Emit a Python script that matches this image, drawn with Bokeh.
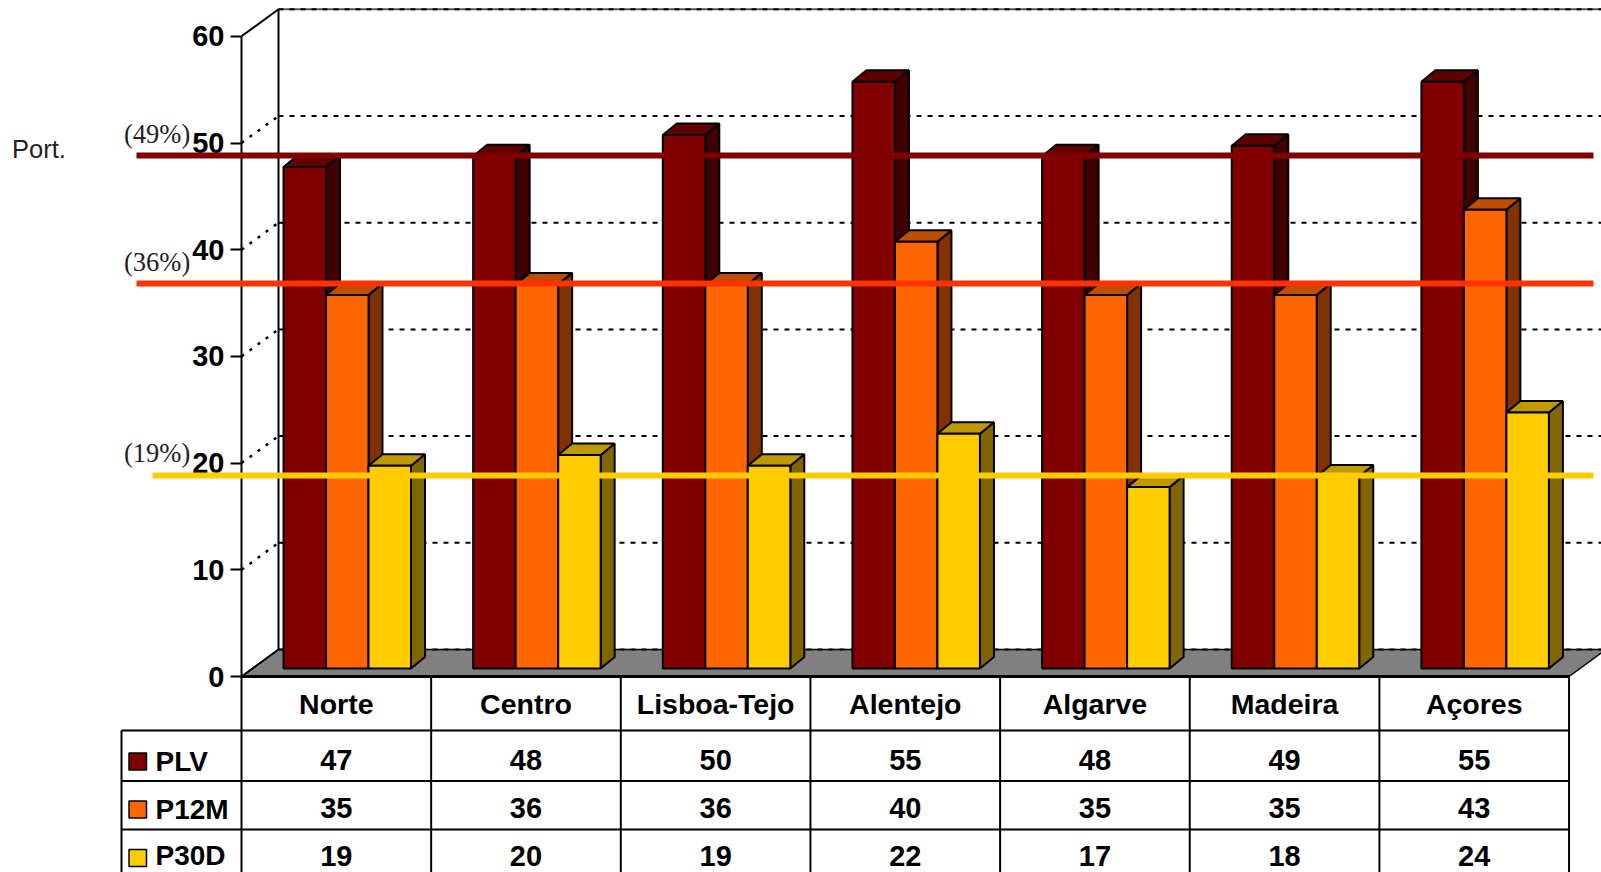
from bokeh.embed import file_html
from bokeh.resources import INLINE
from bokeh.plotting import figure
from bokeh.models import FixedTicker
from bokeh.core.properties import value

regions = ["Norte", "Centro", "Lisboa-Tejo", "Alentejo", "Algarve", "Madeira", "Açores"]
plv = [47, 48, 50, 55, 48, 49, 55]
p12m = [35, 36, 36, 40, 35, 35, 43]
p30d = [19, 20, 19, 22, 17, 18, 24]
series_names = ["PLV", "P12M", "P30D"]
ref_values = [49, 36, 19]
ref_labels = ["(49%)", "(36%)", "(19%)"]
y_ticks = [0, 10, 20, 30, 40, 50, 60]

front = ["#800000", "#FF6600", "#FFCC00"]
top_c = ["#600000", "#BF4D00", "#BF9900"]
side_c = ["#400000", "#803300", "#806600"]
ref_c = ["#800000", "#FF3300", "#FFCC00"]

# page-pixel layout
PX_U, PX_V = 189.65, 10.67
X0, Y0 = 241, 676
X = lambda px: (px - X0) / PX_U
DY = lambda d: d / PX_V
Y = lambda py: (Y0 - py) / PX_V

W_DX, W_DY = X(278), DY(27)
B_DX, B_DY = 14 / PX_U, DY(11.5)
BAR_L, BAR_W = X(283), 42.5 / PX_U
BAR_0 = Y(668)
XEND = X(1601)

FONT = value("Liberation Sans")
SERIF = value("Liberation Serif")

p = figure(width=1601, height=872, output_backend="svg", toolbar_location=None,
           x_range=(X(0), X(1601)), y_range=(Y(872), Y(0)), min_border=0,
           x_axis_location="below", y_axis_location="left")
p.outline_line_color = None
p.grid.visible = False
p.background_fill_color = "white"

yax = p.yaxis[0]
yax.fixed_location = 0
yax.ticker = FixedTicker(ticks=y_ticks)
yax.bounds = (0, 60)
yax.axis_line_color = "black"
yax.axis_line_width = 2
yax.major_tick_line_color = "black"
yax.major_tick_line_width = 2
yax.major_tick_in = 0
yax.major_tick_out = 11
yax.minor_tick_line_color = None
yax.major_label_text_font = "Liberation Sans"
yax.major_label_text_font_style = "bold"
yax.major_label_text_font_size = "29px"
yax.major_label_text_color = "black"
yax.major_label_standoff = 6

xax = p.xaxis[0]
xax.fixed_location = 0
xax.ticker = FixedTicker(ticks=[i + 0.5 for i in range(len(regions))])
xax.major_label_overrides = {i + 0.5: r for i, r in enumerate(regions)}
xax.bounds = (0, 7)
xax.axis_line_color = "black"
xax.axis_line_width = 3
xax.major_tick_line_color = None
xax.minor_tick_line_color = None
xax.major_tick_in = 0
xax.major_tick_out = 0
xax.major_label_text_font = "Liberation Sans"
xax.major_label_text_font_style = "bold"
xax.major_label_text_font_size = "28.5px"
xax.major_label_text_color = "black"
xax.major_label_standoff = 11

# floor
p.patch([0, 7, 7 + W_DX, W_DX], [0, 0, W_DY, W_DY], fill_color="#808080", line_color="black", line_width=1.5)
# back wall
p.segment([W_DX], [W_DY], [W_DX], [60 + W_DY], line_color="black", line_width=2)
p.segment([W_DX], [60 + W_DY], [XEND], [60 + W_DY], line_color="#555555", line_width=2)
grid = y_ticks
p.segment([W_DX] * len(grid), [g + W_DY for g in grid], [XEND] * len(grid), [g + W_DY for g in grid],
          line_color="black", line_width=2, line_dash="5 6")
mid = y_ticks[1:-1]
p.segment([0] * len(mid), mid, [W_DX] * len(mid), [g + W_DY for g in mid],
          line_color="black", line_width=2.5, line_dash="3 7")
p.segment([0, 0], [0, 60], [W_DX, W_DX], [W_DY, 60 + W_DY], line_color="black", line_width=2)

# bars
for k, vals in enumerate([plv, p12m, p30d]):
    lefts = [i + BAR_L + k * BAR_W for i in range(len(vals))]
    rights = [l + BAR_W for l in lefts]
    tops = [BAR_0 + v for v in vals]
    p.patches([[r, r + B_DX, r + B_DX, r] for r in rights],
              [[BAR_0, BAR_0 + B_DY, t + B_DY, t] for t in tops],
              fill_color=side_c[k], line_color="black", line_width=2)
    p.patches([[l, r, r + B_DX, l + B_DX] for l, r in zip(lefts, rights)],
              [[t, t, t + B_DY, t + B_DY] for t in tops],
              fill_color=top_c[k], line_color="black", line_width=2)
    p.quad(left=lefts, right=rights, bottom=[BAR_0] * len(vals), top=tops,
           fill_color=front[k], line_color="black", line_width=2)

# table
ROWS = [730, 780.5, 829]
ROW_TXT = [759.5, 807.5, 855]
LEG_TXT = [761, 809, 855]
KEY_Y = [761, 809, 857.5]
BOT = Y(872)
p.segment([X(121)] * 3, [Y(r) for r in ROWS], [7] * 3, [Y(r) for r in ROWS], line_color="black", line_width=2)
p.segment([X(121)], [Y(ROWS[0])], [X(121)], [BOT], line_color="black", line_width=2)
p.segment(list(range(8)), [0] * 8, list(range(8)), [BOT] * 8, line_color="black", line_width=2)
for k, vals in enumerate([plv, p12m, p30d]):
    p.text([i + 0.5 for i in range(len(vals))], [Y(ROW_TXT[k])] * len(vals), text=[str(v) for v in vals],
           text_font=FONT, text_font_style="bold", text_font_size="29px", text_color="black",
           text_align="center", text_baseline="middle")
    yc = Y(KEY_Y[k])
    p.quad(left=[X(128.5)], right=[X(146)], bottom=[yc - DY(8.5)], top=[yc + DY(8.5)],
           fill_color=front[k], line_color="black", line_width=1.5)
    p.text([X(155)], [Y(LEG_TXT[k])], text=[series_names[k]],
           text_font=FONT, text_font_style="bold", text_font_size="28px", text_color="black",
           text_align="left", text_baseline="middle")

# reference lines
REF_Y = [155, 283, 475]
REF_X = [136, 136, 152]
for k in range(3):
    p.segment([X(REF_X[k])], [Y(REF_Y[k])], [X(1593)], [Y(REF_Y[k])],
              line_color=ref_c[k], line_width=6, level="overlay")
p.text([X(123.5)] * 3, [Y(133), Y(261), Y(452)], text=ref_labels,
       text_font=SERIF, text_font_size="26.5px", text_color="#222222",
       text_align="left", text_baseline="middle")
p.text([X(11.5)], [Y(148)], text=["Port."], text_font=FONT, text_font_size="25.5px",
       text_color="#222222", text_align="left", text_baseline="middle")

open("out.html", "w").write(file_html(p, INLINE))
